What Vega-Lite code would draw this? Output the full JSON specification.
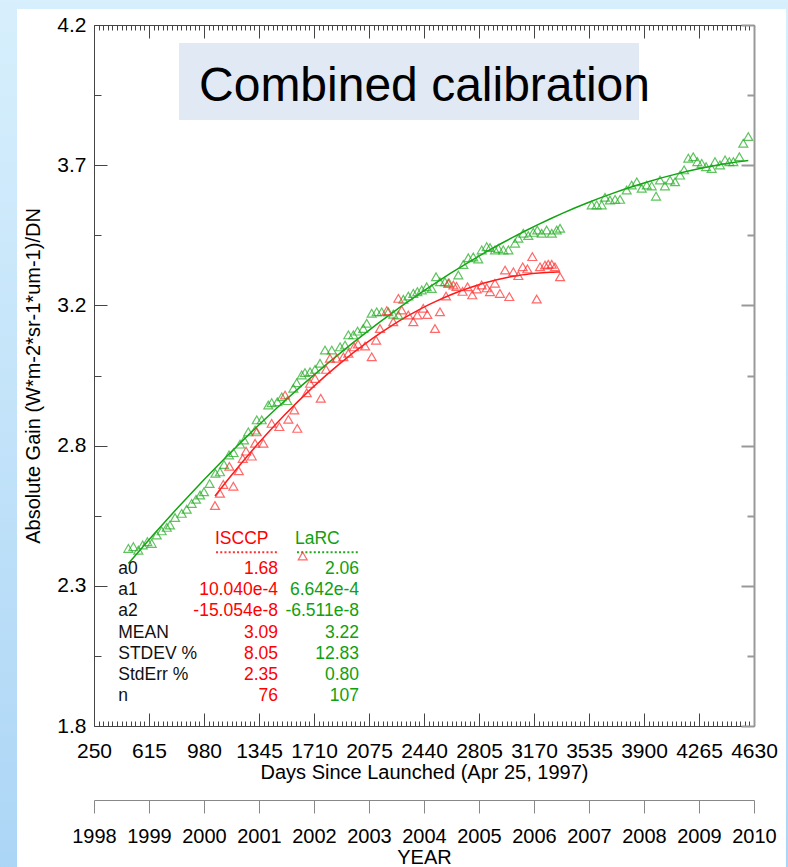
{
  "$schema": "https://vega.github.io/schema/vega-lite/v6.json",
  "width": 660,
  "height": 701,
  "autosize": "none",
  "padding": {"left": 94, "top": 25, "right": 34, "bottom": 141},
  "background": "#C8E6FA",
  "config": {
    "view": {"stroke": null},
    "axis": {"labelFont": "Liberation Sans", "titleFont": "Liberation Sans", "labelColor": "#000", "titleColor": "#000", "titleFontWeight": "normal", "grid": false, "labelFlush": false, "labelOverlap": false, "domainColor": "#444", "tickColor": "#444"}
  },
  "datasets": {
    "points": [
      {"source": "LaRC", "day": 478, "gain": 2.408}, {"source": "LaRC", "day": 511, "gain": 2.414}, {"source": "LaRC", "day": 544, "gain": 2.402}, {"source": "LaRC", "day": 573, "gain": 2.420}, {"source": "LaRC", "day": 604, "gain": 2.431}, {"source": "LaRC", "day": 633, "gain": 2.425}, {"source": "LaRC", "day": 666, "gain": 2.454}, {"source": "LaRC", "day": 699, "gain": 2.468}, {"source": "LaRC", "day": 733, "gain": 2.480}, {"source": "LaRC", "day": 754, "gain": 2.488},
      {"source": "LaRC", "day": 788, "gain": 2.514}, {"source": "LaRC", "day": 832, "gain": 2.528}, {"source": "LaRC", "day": 865, "gain": 2.542}, {"source": "LaRC", "day": 898, "gain": 2.562}, {"source": "LaRC", "day": 927, "gain": 2.576}, {"source": "LaRC", "day": 954, "gain": 2.591}, {"source": "LaRC", "day": 980, "gain": 2.602}, {"source": "LaRC", "day": 1017, "gain": 2.630}, {"source": "LaRC", "day": 1056, "gain": 2.665}, {"source": "LaRC", "day": 1086, "gain": 2.670},
      {"source": "LaRC", "day": 1113, "gain": 2.695}, {"source": "LaRC", "day": 1146, "gain": 2.728}, {"source": "LaRC", "day": 1176, "gain": 2.736}, {"source": "LaRC", "day": 1219, "gain": 2.765}, {"source": "LaRC", "day": 1246, "gain": 2.779}, {"source": "LaRC", "day": 1274, "gain": 2.807}, {"source": "LaRC", "day": 1319, "gain": 2.813}, {"source": "LaRC", "day": 1330, "gain": 2.848}, {"source": "LaRC", "day": 1363, "gain": 2.848}, {"source": "LaRC", "day": 1407, "gain": 2.899},
      {"source": "LaRC", "day": 1429, "gain": 2.907}, {"source": "LaRC", "day": 1467, "gain": 2.910}, {"source": "LaRC", "day": 1496, "gain": 2.927}, {"source": "LaRC", "day": 1533, "gain": 2.914}, {"source": "LaRC", "day": 1573, "gain": 2.956}, {"source": "LaRC", "day": 1595, "gain": 2.975}, {"source": "LaRC", "day": 1628, "gain": 3.002}, {"source": "LaRC", "day": 1650, "gain": 3.010}, {"source": "LaRC", "day": 1684, "gain": 3.013}, {"source": "LaRC", "day": 1717, "gain": 3.021},
      {"source": "LaRC", "day": 1750, "gain": 3.042}, {"source": "LaRC", "day": 1783, "gain": 3.087}, {"source": "LaRC", "day": 1828, "gain": 3.087}, {"source": "LaRC", "day": 1883, "gain": 3.098}, {"source": "LaRC", "day": 1916, "gain": 3.104}, {"source": "LaRC", "day": 1938, "gain": 3.139}, {"source": "LaRC", "day": 1971, "gain": 3.139}, {"source": "LaRC", "day": 1999, "gain": 3.152}, {"source": "LaRC", "day": 2037, "gain": 3.161}, {"source": "LaRC", "day": 2060, "gain": 3.179},
      {"source": "LaRC", "day": 2093, "gain": 3.213}, {"source": "LaRC", "day": 2126, "gain": 3.218}, {"source": "LaRC", "day": 2159, "gain": 3.218}, {"source": "LaRC", "day": 2203, "gain": 3.218}, {"source": "LaRC", "day": 2236, "gain": 3.210}, {"source": "LaRC", "day": 2270, "gain": 3.207}, {"source": "LaRC", "day": 2303, "gain": 3.261}, {"source": "LaRC", "day": 2336, "gain": 3.272}, {"source": "LaRC", "day": 2369, "gain": 3.281}, {"source": "LaRC", "day": 2396, "gain": 3.287},
      {"source": "LaRC", "day": 2425, "gain": 3.293}, {"source": "LaRC", "day": 2458, "gain": 3.304}, {"source": "LaRC", "day": 2491, "gain": 3.298}, {"source": "LaRC", "day": 2520, "gain": 3.338}, {"source": "LaRC", "day": 2546, "gain": 3.321}, {"source": "LaRC", "day": 2579, "gain": 3.321}, {"source": "LaRC", "day": 2606, "gain": 3.317}, {"source": "LaRC", "day": 2668, "gain": 3.344}, {"source": "LaRC", "day": 2701, "gain": 3.380}, {"source": "LaRC", "day": 2734, "gain": 3.403},
      {"source": "LaRC", "day": 2767, "gain": 3.406}, {"source": "LaRC", "day": 2800, "gain": 3.399}, {"source": "LaRC", "day": 2823, "gain": 3.430}, {"source": "LaRC", "day": 2856, "gain": 3.441}, {"source": "LaRC", "day": 2878, "gain": 3.438}, {"source": "LaRC", "day": 2911, "gain": 3.430}, {"source": "LaRC", "day": 2933, "gain": 3.435}, {"source": "LaRC", "day": 2966, "gain": 3.430}, {"source": "LaRC", "day": 3000, "gain": 3.430}, {"source": "LaRC", "day": 3044, "gain": 3.453},
      {"source": "LaRC", "day": 3066, "gain": 3.470}, {"source": "LaRC", "day": 3099, "gain": 3.487}, {"source": "LaRC", "day": 3132, "gain": 3.479}, {"source": "LaRC", "day": 3165, "gain": 3.490}, {"source": "LaRC", "day": 3192, "gain": 3.498}, {"source": "LaRC", "day": 3221, "gain": 3.487}, {"source": "LaRC", "day": 3254, "gain": 3.498}, {"source": "LaRC", "day": 3288, "gain": 3.487}, {"source": "LaRC", "day": 3321, "gain": 3.498}, {"source": "LaRC", "day": 3343, "gain": 3.504},
      {"source": "LaRC", "day": 3553, "gain": 3.584}, {"source": "LaRC", "day": 3586, "gain": 3.584}, {"source": "LaRC", "day": 3619, "gain": 3.584}, {"source": "LaRC", "day": 3641, "gain": 3.610}, {"source": "LaRC", "day": 3674, "gain": 3.601}, {"source": "LaRC", "day": 3708, "gain": 3.603}, {"source": "LaRC", "day": 3741, "gain": 3.603}, {"source": "LaRC", "day": 3785, "gain": 3.635}, {"source": "LaRC", "day": 3818, "gain": 3.652}, {"source": "LaRC", "day": 3852, "gain": 3.663},
      {"source": "LaRC", "day": 3885, "gain": 3.641}, {"source": "LaRC", "day": 3918, "gain": 3.652}, {"source": "LaRC", "day": 3951, "gain": 3.649}, {"source": "LaRC", "day": 3980, "gain": 3.614}, {"source": "LaRC", "day": 4006, "gain": 3.669}, {"source": "LaRC", "day": 4039, "gain": 3.649}, {"source": "LaRC", "day": 4073, "gain": 3.669}, {"source": "LaRC", "day": 4106, "gain": 3.663}, {"source": "LaRC", "day": 4139, "gain": 3.686}, {"source": "LaRC", "day": 4166, "gain": 3.704},
      {"source": "LaRC", "day": 4194, "gain": 3.744}, {"source": "LaRC", "day": 4227, "gain": 3.749}, {"source": "LaRC", "day": 4254, "gain": 3.732}, {"source": "LaRC", "day": 4283, "gain": 3.726}, {"source": "LaRC", "day": 4312, "gain": 3.715}, {"source": "LaRC", "day": 4349, "gain": 3.709}, {"source": "LaRC", "day": 4371, "gain": 3.732}, {"source": "LaRC", "day": 4404, "gain": 3.721}, {"source": "LaRC", "day": 4438, "gain": 3.738}, {"source": "LaRC", "day": 4466, "gain": 3.732},
      {"source": "LaRC", "day": 4493, "gain": 3.732}, {"source": "LaRC", "day": 4533, "gain": 3.749}, {"source": "LaRC", "day": 4559, "gain": 3.795}, {"source": "LaRC", "day": 4592, "gain": 3.818},
      {"source": "ISCCP", "day": 1053, "gain": 2.555}, {"source": "ISCCP", "day": 1086, "gain": 2.597}, {"source": "ISCCP", "day": 1108, "gain": 2.627}, {"source": "ISCCP", "day": 1148, "gain": 2.689}, {"source": "ISCCP", "day": 1175, "gain": 2.621}, {"source": "ISCCP", "day": 1211, "gain": 2.674}, {"source": "ISCCP", "day": 1237, "gain": 2.716}, {"source": "ISCCP", "day": 1259, "gain": 2.741}, {"source": "ISCCP", "day": 1297, "gain": 2.724}, {"source": "ISCCP", "day": 1319, "gain": 2.768},
      {"source": "ISCCP", "day": 1330, "gain": 2.807}, {"source": "ISCCP", "day": 1374, "gain": 2.768}, {"source": "ISCCP", "day": 1429, "gain": 2.836}, {"source": "ISCCP", "day": 1480, "gain": 2.825}, {"source": "ISCCP", "day": 1518, "gain": 2.933}, {"source": "ISCCP", "day": 1540, "gain": 2.850}, {"source": "ISCCP", "day": 1579, "gain": 2.882}, {"source": "ISCCP", "day": 1599, "gain": 2.819}, {"source": "ISCCP", "day": 1662, "gain": 2.941}, {"source": "ISCCP", "day": 1684, "gain": 2.973},
      {"source": "ISCCP", "day": 1717, "gain": 2.990}, {"source": "ISCCP", "day": 1755, "gain": 2.922}, {"source": "ISCCP", "day": 1790, "gain": 3.021}, {"source": "ISCCP", "day": 1816, "gain": 3.059}, {"source": "ISCCP", "day": 1861, "gain": 3.059}, {"source": "ISCCP", "day": 1905, "gain": 3.064}, {"source": "ISCCP", "day": 1938, "gain": 3.076}, {"source": "ISCCP", "day": 1976, "gain": 3.098}, {"source": "ISCCP", "day": 2002, "gain": 3.108}, {"source": "ISCCP", "day": 2049, "gain": 3.101},
      {"source": "ISCCP", "day": 2093, "gain": 3.064}, {"source": "ISCCP", "day": 2122, "gain": 3.121}, {"source": "ISCCP", "day": 2148, "gain": 3.161}, {"source": "ISCCP", "day": 2193, "gain": 3.222}, {"source": "ISCCP", "day": 2236, "gain": 3.184}, {"source": "ISCCP", "day": 2270, "gain": 3.264}, {"source": "ISCCP", "day": 2292, "gain": 3.224}, {"source": "ISCCP", "day": 2336, "gain": 3.207}, {"source": "ISCCP", "day": 2369, "gain": 3.184}, {"source": "ISCCP", "day": 2396, "gain": 3.207},
      {"source": "ISCCP", "day": 2435, "gain": 3.230}, {"source": "ISCCP", "day": 2462, "gain": 3.209}, {"source": "ISCCP", "day": 2513, "gain": 3.161}, {"source": "ISCCP", "day": 2546, "gain": 3.218}, {"source": "ISCCP", "day": 2586, "gain": 3.272}, {"source": "ISCCP", "day": 2601, "gain": 3.316}, {"source": "ISCCP", "day": 2635, "gain": 3.310}, {"source": "ISCCP", "day": 2656, "gain": 3.305}, {"source": "ISCCP", "day": 2696, "gain": 3.288}, {"source": "ISCCP", "day": 2729, "gain": 3.304},
      {"source": "ISCCP", "day": 2760, "gain": 3.276}, {"source": "ISCCP", "day": 2790, "gain": 3.296}, {"source": "ISCCP", "day": 2823, "gain": 3.310}, {"source": "ISCCP", "day": 2856, "gain": 3.300}, {"source": "ISCCP", "day": 2878, "gain": 3.287}, {"source": "ISCCP", "day": 2911, "gain": 3.316}, {"source": "ISCCP", "day": 2944, "gain": 3.281}, {"source": "ISCCP", "day": 2978, "gain": 3.361}, {"source": "ISCCP", "day": 3006, "gain": 3.270}, {"source": "ISCCP", "day": 3033, "gain": 3.355},
      {"source": "ISCCP", "day": 3066, "gain": 3.342}, {"source": "ISCCP", "day": 3095, "gain": 3.372}, {"source": "ISCCP", "day": 3126, "gain": 3.365}, {"source": "ISCCP", "day": 3159, "gain": 3.407}, {"source": "ISCCP", "day": 3188, "gain": 3.262}, {"source": "ISCCP", "day": 3210, "gain": 3.372}, {"source": "ISCCP", "day": 3243, "gain": 3.378}, {"source": "ISCCP", "day": 3265, "gain": 3.381}, {"source": "ISCCP", "day": 3288, "gain": 3.381}, {"source": "ISCCP", "day": 3309, "gain": 3.372},
      {"source": "ISCCP", "day": 3343, "gain": 3.338}
    ],
    "stats": [
      {"stat": "a0", "ISCCP": "1.68", "LaRC": "2.06"},
      {"stat": "a1", "ISCCP": "10.040e-4", "LaRC": "6.642e-4"},
      {"stat": "a2", "ISCCP": "-15.054e-8", "LaRC": "-6.511e-8"},
      {"stat": "MEAN", "ISCCP": "3.09", "LaRC": "3.22"},
      {"stat": "STDEV %", "ISCCP": "8.05", "LaRC": "12.83"},
      {"stat": "StdErr %", "ISCCP": "2.35", "LaRC": "0.80"},
      {"stat": "n", "ISCCP": "76", "LaRC": "107"}
    ]
  },
  "resolve": {"scale": {"x": "shared", "y": "independent"}, "axis": {"x": "independent", "y": "independent"}},
  "layer": [
    {
      "data": {"values": [{}]},
      "mark": {"type": "rect", "color": {"gradient": "linear", "x1": 0, "y1": 0, "x2": 0, "y2": 1, "stops": [{"offset": 0, "color": "#DCF2FD"}, {"offset": 1, "color": "#A6D2F5"}]}},
      "encoding": {
        "x": {"datum": -1000, "type": "quantitative", "scale": {"domain": [250, 4630], "nice": false, "zero": false}, "axis": null},
        "x2": {"datum": 6000},
        "y": {"datum": 4.6, "type": "quantitative", "scale": {"domain": [1.8, 4.2], "nice": false, "zero": false}, "axis": null},
        "y2": {"datum": 0.9}
      }
    },
    {
      "data": {"values": [{}]},
      "mark": {"type": "rect", "color": "#FFFFFF"},
      "encoding": {
        "x": {"datum": -261, "type": "quantitative", "scale": {"domain": [250, 4630], "nice": false, "zero": false},
              "axis": {"orient": "bottom", "zindex": 1, "offset": 74, "values": [250, 615, 980, 1345, 1710, 2075, 2440, 2805, 3170, 3535, 3900, 4265, 4630], "labelExpr": "1998 + round((datum.value - 250) / 365)", "tickSize": 13, "labelPadding": 13, "labelFontSize": 20, "domainColor": "#888", "tickColor": "#888", "title": "YEAR", "titleFontSize": 20, "titlePadding": 1}},
        "x2": {"datum": 4842},
        "y": {"datum": 4.2548, "type": "quantitative", "scale": {"domain": [1.8, 4.2], "nice": false, "zero": false}, "axis": null},
        "y2": {"datum": 1.2}
      }
    },
    {
      "data": {"values": [{}]},
      "mark": {"type": "rect", "color": "#E1E9F4"},
      "encoding": {
        "x": {"datum": 814, "type": "quantitative", "scale": {"domain": [250, 4630], "nice": false, "zero": false},
              "axis": {"orient": "top", "zindex": 1, "values": [250, 615, 980, 1345, 1710, 2075, 2440, 2805, 3170, 3535, 3900, 4265, 4630], "tickSize": -13, "labels": false, "title": null}},
        "x2": {"datum": 3867},
        "y": {"datum": 4.1384, "type": "quantitative", "scale": {"domain": [1.8, 4.2], "nice": false, "zero": false},
              "axis": {"orient": "right", "zindex": 1, "values": [1.8, 2.28, 2.76, 3.24, 3.72, 4.2], "tickSize": -13, "labels": false, "title": null, "domainColor": "#999", "domainWidth": 2, "tickColor": "#999", "tickWidth": 2}},
        "y2": {"datum": 3.8747}
      }
    },
    {
      "data": {"values": [{}]},
      "mark": {"type": "text", "text": "Combined calibration", "align": "left", "baseline": "alphabetic", "font": "Liberation Sans", "fontSize": 48, "color": "#000"},
      "encoding": {
        "x": {"datum": 947, "type": "quantitative", "scale": {"domain": [250, 4630], "nice": false, "zero": false},
              "axis": {"orient": "top", "zindex": 1, "values": [280.4, 310.8, 341.3, 371.7, 402.1, 432.5, 462.9, 493.3, 523.8, 554.2, 584.6, 645.4, 675.8, 706.3, 736.7, 767.1, 797.5, 827.9, 858.3, 888.8, 919.2, 949.6, 1010.4, 1040.8, 1071.3, 1101.7, 1132.1, 1162.5, 1192.9, 1223.3, 1253.8, 1284.2, 1314.6, 1375.4, 1405.8, 1436.3, 1466.7, 1497.1, 1527.5, 1557.9, 1588.3, 1618.8, 1649.2, 1679.6, 1740.4, 1770.8, 1801.3, 1831.7, 1862.1, 1892.5, 1922.9, 1953.3, 1983.8, 2014.2, 2044.6, 2105.4, 2135.8, 2166.3, 2196.7, 2227.1, 2257.5, 2287.9, 2318.3, 2348.8, 2379.2, 2409.6, 2470.4, 2500.8, 2531.3, 2561.7, 2592.1, 2622.5, 2652.9, 2683.3, 2713.8, 2744.2, 2774.6, 2835.4, 2865.8, 2896.3, 2926.7, 2957.1, 2987.5, 3017.9, 3048.3, 3078.8, 3109.2, 3139.6, 3200.4, 3230.8, 3261.3, 3291.7, 3322.1, 3352.5, 3382.9, 3413.3, 3443.8, 3474.2, 3504.6, 3565.4, 3595.8, 3626.3, 3656.7, 3687.1, 3717.5, 3747.9, 3778.3, 3808.8, 3839.2, 3869.6, 3930.4, 3960.8, 3991.3, 4021.7, 4052.1, 4082.5, 4112.9, 4143.3, 4173.8, 4204.2, 4234.6, 4295.4, 4325.8, 4356.3, 4386.7, 4417.1, 4447.5, 4477.9, 4508.3, 4538.8, 4569.2, 4599.6], "tickSize": -5, "labels": false, "domain": false, "title": null}},
        "y": {"datum": 3.9398, "type": "quantitative", "scale": {"domain": [1.8, 4.2], "nice": false, "zero": false},
              "axis": {"orient": "right", "zindex": 1, "values": [2.04, 2.52, 3.0, 3.48, 3.96], "tickSize": -7, "labels": false, "domain": false, "title": null, "tickColor": "#999", "tickWidth": 2}}
      }
    },
    {
      "data": {"name": "points"},
      "transform": [{"filter": "datum.source === 'ISCCP'"}, {"regression": "gain", "on": "day", "method": "poly", "order": 2}],
      "mark": {"type": "line", "color": "#FF1A1A", "strokeWidth": 1.5},
      "encoding": {
        "x": {"field": "day", "type": "quantitative", "scale": {"domain": [250, 4630], "nice": false, "zero": false}, "axis": null},
        "y": {"field": "gain", "type": "quantitative", "scale": {"domain": [1.8, 4.2], "nice": false, "zero": false}, "axis": null}
      }
    },
    {
      "data": {"name": "points"},
      "transform": [{"filter": "datum.source === 'LaRC'"}, {"regression": "gain", "on": "day", "method": "poly", "order": 2}],
      "mark": {"type": "line", "color": "#10A510", "strokeWidth": 1.5},
      "encoding": {
        "x": {"field": "day", "type": "quantitative", "scale": {"domain": [250, 4630], "nice": false, "zero": false}, "axis": null},
        "y": {"field": "gain", "type": "quantitative", "scale": {"domain": [1.8, 4.2], "nice": false, "zero": false}, "axis": null}
      }
    },
    {
      "data": {"name": "points"},
      "transform": [{"filter": "datum.source === 'LaRC'"}],
      "mark": {"type": "point", "shape": "triangle-up", "size": 80, "filled": false, "color": "#1DAA1D", "strokeWidth": 1.2, "opacity": 0.7},
      "encoding": {
        "x": {"field": "day", "type": "quantitative", "scale": {"domain": [250, 4630], "nice": false, "zero": false},
              "axis": {"orient": "bottom", "zindex": 1, "values": [250, 615, 980, 1345, 1710, 2075, 2440, 2805, 3170, 3535, 3900, 4265, 4630], "format": "d", "tickSize": -13, "labelPadding": 27, "labelFontSize": 21, "title": "Days Since Launched (Apr 25, 1997)", "titleFontSize": 20, "titlePadding": 1}},
        "y": {"field": "gain", "type": "quantitative", "scale": {"domain": [1.8, 4.2], "nice": false, "zero": false},
              "axis": {"orient": "left", "zindex": 1, "values": [1.8, 2.28, 2.76, 3.24, 3.72, 4.2], "format": ".1f", "tickSize": -13, "labelPadding": 21, "labelFontSize": 21, "title": "Absolute Gain (W*m-2*sr-1*um-1)/DN", "titleFontSize": 20, "titlePadding": 13}}
      }
    },
    {
      "data": {"name": "points"},
      "transform": [{"filter": "datum.source === 'ISCCP'"}],
      "mark": {"type": "point", "shape": "triangle-up", "size": 80, "filled": false, "color": "#FF2A2A", "strokeWidth": 1.2, "opacity": 0.7},
      "encoding": {
        "x": {"field": "day", "type": "quantitative", "scale": {"domain": [250, 4630], "nice": false, "zero": false},
              "axis": {"orient": "bottom", "zindex": 1, "values": [280.4, 310.8, 341.3, 371.7, 402.1, 432.5, 462.9, 493.3, 523.8, 554.2, 584.6, 645.4, 675.8, 706.3, 736.7, 767.1, 797.5, 827.9, 858.3, 888.8, 919.2, 949.6, 1010.4, 1040.8, 1071.3, 1101.7, 1132.1, 1162.5, 1192.9, 1223.3, 1253.8, 1284.2, 1314.6, 1375.4, 1405.8, 1436.3, 1466.7, 1497.1, 1527.5, 1557.9, 1588.3, 1618.8, 1649.2, 1679.6, 1740.4, 1770.8, 1801.3, 1831.7, 1862.1, 1892.5, 1922.9, 1953.3, 1983.8, 2014.2, 2044.6, 2105.4, 2135.8, 2166.3, 2196.7, 2227.1, 2257.5, 2287.9, 2318.3, 2348.8, 2379.2, 2409.6, 2470.4, 2500.8, 2531.3, 2561.7, 2592.1, 2622.5, 2652.9, 2683.3, 2713.8, 2744.2, 2774.6, 2835.4, 2865.8, 2896.3, 2926.7, 2957.1, 2987.5, 3017.9, 3048.3, 3078.8, 3109.2, 3139.6, 3200.4, 3230.8, 3261.3, 3291.7, 3322.1, 3352.5, 3382.9, 3413.3, 3443.8, 3474.2, 3504.6, 3565.4, 3595.8, 3626.3, 3656.7, 3687.1, 3717.5, 3747.9, 3778.3, 3808.8, 3839.2, 3869.6, 3930.4, 3960.8, 3991.3, 4021.7, 4052.1, 4082.5, 4112.9, 4143.3, 4173.8, 4204.2, 4234.6, 4295.4, 4325.8, 4356.3, 4386.7, 4417.1, 4447.5, 4477.9, 4508.3, 4538.8, 4569.2, 4599.6], "tickSize": -5, "labels": false, "domain": false, "title": null}},
        "y": {"field": "gain", "type": "quantitative", "scale": {"domain": [1.8, 4.2], "nice": false, "zero": false},
              "axis": {"orient": "left", "zindex": 1, "values": [2.04, 2.52, 3.0, 3.48, 3.96], "tickSize": -7, "labels": false, "domain": false, "title": null}}
      }
    },
    {
      "data": {"name": "stats"},
      "mark": {"type": "text", "align": "left", "baseline": "middle", "font": "Liberation Sans", "fontSize": 17.5, "color": "#111"},
      "encoding": {
        "x": {"datum": 411, "type": "quantitative", "scale": {"domain": [250, 4630], "nice": false, "zero": false}, "axis": null},
        "y": {"field": "stat", "type": "ordinal", "scale": {"type": "point", "domain": ["a0", "a1", "a2", "MEAN", "STDEV %", "StdErr %", "n"], "range": [544, 671], "padding": 0}, "axis": null},
        "text": {"field": "stat"}
      }
    },
    {
      "data": {"name": "stats"},
      "mark": {"type": "text", "align": "right", "baseline": "middle", "font": "Liberation Sans", "fontSize": 17.5, "color": "#FF0000"},
      "encoding": {
        "x": {"datum": 1471, "type": "quantitative", "scale": {"domain": [250, 4630], "nice": false, "zero": false}, "axis": null},
        "y": {"field": "stat", "type": "ordinal", "scale": {"type": "point", "domain": ["a0", "a1", "a2", "MEAN", "STDEV %", "StdErr %", "n"], "range": [544, 671], "padding": 0}, "axis": null},
        "text": {"field": "ISCCP"}
      }
    },
    {
      "data": {"name": "stats"},
      "mark": {"type": "text", "align": "right", "baseline": "middle", "font": "Liberation Sans", "fontSize": 17.5, "color": "#10A010"},
      "encoding": {
        "x": {"datum": 2009, "type": "quantitative", "scale": {"domain": [250, 4630], "nice": false, "zero": false}, "axis": null},
        "y": {"field": "stat", "type": "ordinal", "scale": {"type": "point", "domain": ["a0", "a1", "a2", "MEAN", "STDEV %", "StdErr %", "n"], "range": [544, 671], "padding": 0}, "axis": null},
        "text": {"field": "LaRC"}
      }
    },
    {
      "data": {"values": [{}]},
      "mark": {"type": "text", "text": "ISCCP", "align": "left", "baseline": "middle", "font": "Liberation Sans", "fontSize": 17.5, "color": "#FF0000"},
      "encoding": {
        "x": {"datum": 1053, "type": "quantitative", "scale": {"domain": [250, 4630], "nice": false, "zero": false}, "axis": null},
        "y": {"datum": 2.4405, "type": "quantitative", "scale": {"domain": [1.8, 4.2], "nice": false, "zero": false}, "axis": null}
      }
    },
    {
      "data": {"values": [{}]},
      "mark": {"type": "text", "text": "LaRC", "align": "left", "baseline": "middle", "font": "Liberation Sans", "fontSize": 17.5, "color": "#10A010"},
      "encoding": {
        "x": {"datum": 1584, "type": "quantitative", "scale": {"domain": [250, 4630], "nice": false, "zero": false}, "axis": null},
        "y": {"datum": 2.4405, "type": "quantitative", "scale": {"domain": [1.8, 4.2], "nice": false, "zero": false}, "axis": null}
      }
    },
    {
      "data": {"values": [{}]},
      "mark": {"type": "rule", "color": "#FF3030", "strokeWidth": 2, "strokeDash": [2, 2.2]},
      "encoding": {
        "x": {"datum": 1060, "type": "quantitative", "scale": {"domain": [250, 4630], "nice": false, "zero": false}, "axis": null},
        "x2": {"datum": 1471},
        "y": {"datum": 2.3945, "type": "quantitative", "scale": {"domain": [1.8, 4.2], "nice": false, "zero": false}, "axis": null}
      }
    },
    {
      "data": {"values": [{}]},
      "mark": {"type": "rule", "color": "#20A820", "strokeWidth": 2, "strokeDash": [2, 2.2]},
      "encoding": {
        "x": {"datum": 1597, "type": "quantitative", "scale": {"domain": [250, 4630], "nice": false, "zero": false}, "axis": null},
        "x2": {"datum": 2009},
        "y": {"datum": 2.3945, "type": "quantitative", "scale": {"domain": [1.8, 4.2], "nice": false, "zero": false}, "axis": null}
      }
    },
    {
      "data": {"values": [{}]},
      "mark": {"type": "point", "shape": "triangle-up", "size": 80, "filled": false, "color": "#FF2A2A", "strokeWidth": 1.2, "opacity": 0.7},
      "encoding": {
        "x": {"datum": 1635, "type": "quantitative", "scale": {"domain": [250, 4630], "nice": false, "zero": false}, "axis": null},
        "y": {"datum": 2.382, "type": "quantitative", "scale": {"domain": [1.8, 4.2], "nice": false, "zero": false}, "axis": null}
      }
    }
  ]
}
